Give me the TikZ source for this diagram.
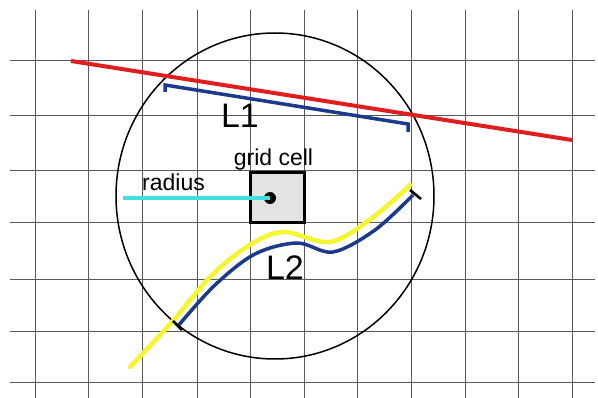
\documentclass[tikz,border=0pt]{standalone}
\usepackage{fontspec}
\setmainfont{Liberation Sans}
\definecolor{redline}{RGB}{224,30,30}
\definecolor{yline}{RGB}{245,245,48}
\definecolor{bline}{RGB}{28,58,140}
\definecolor{cline}{RGB}{64,224,224}
\begin{document}
\begin{tikzpicture}[x=1pt,y=-1pt,
  gridline/.style={draw=black!65,line width=1pt},
  lbl/.style={inner sep=0pt,anchor=base,font=\fontsize{23}{23}\selectfont},
  biglbl/.style={inner sep=0pt,anchor=base,font=\fontsize{34}{34}\selectfont},
  ybright/.style={draw=yline,line width=4.5pt,line cap=round},
  dblue/.style={draw=bline,line width=3.5pt},
  ]
\useasboundingbox (0,0) rectangle (598,398);
\fill[white] (0,0) rectangle (598,398);
% grid
\foreach \gx in {35,88,142,197,250,304,357,411,465,518,572}
  \draw[gridline] (\gx,10) -- (\gx,398);
\foreach \gy in {61,116,171,223,280,332,383}
  \draw[gridline] (10,\gy) -- (595,\gy);
% circle
\draw[black,line width=1.5pt] (275,196) ellipse [x radius=159,y radius=163];
% red line
\coordinate (r1) at (71,61);
\coordinate (r2) at (572,140);
\draw[draw=redline,line width=4pt] (r1) -- (r2);
% L1 segment
\coordinate (b1) at (165,85);
\coordinate (b2) at (408,124);
\draw[dblue] ([yshift=-7]b1) -- (b1) -- (b2) -- ([yshift=-8]b2);
\node[biglbl] (L1) at (240,128) {L1};
% grid cell
\node[draw=black,line width=2.8pt,fill=black!11,minimum width=54pt,minimum height=50pt,inner sep=0pt] (cell) at (277.5,197.5) {};
\node[lbl] (gc) at (273.5,166) {grid cell};
\node[circle,fill=black,inner sep=0pt,minimum size=12pt] (dot) at (270,198) {};
\coordinate (rs) at (123,198);
\draw[draw=cline,line width=4pt] (rs) -- (dot.center);
\node[lbl] (rad) at (173.5,191) {radius};
% L2 curves
\draw[ybright] plot[smooth,tension=0.55] coordinates {(130,367) (172,322) (210,277) (248,246) (283,232) (330,242) (372,218) (410,185)};
\draw[dblue] plot[smooth,tension=0.55] coordinates {(178,326) (215,285) (255,254) (297,243) (333,252) (375,230) (413,195)};
\coordinate (t1) at (173,321);
\coordinate (t2) at (182,330);
\coordinate (t3) at (410,190);
\coordinate (t4) at (421,199);
\draw[black,line width=2.6pt] (t1) -- (t2);
\draw[black,line width=2.6pt] (t3) -- (t4);
\node[biglbl] (L2) at (285,280) {L2};
\end{tikzpicture}
\end{document}
